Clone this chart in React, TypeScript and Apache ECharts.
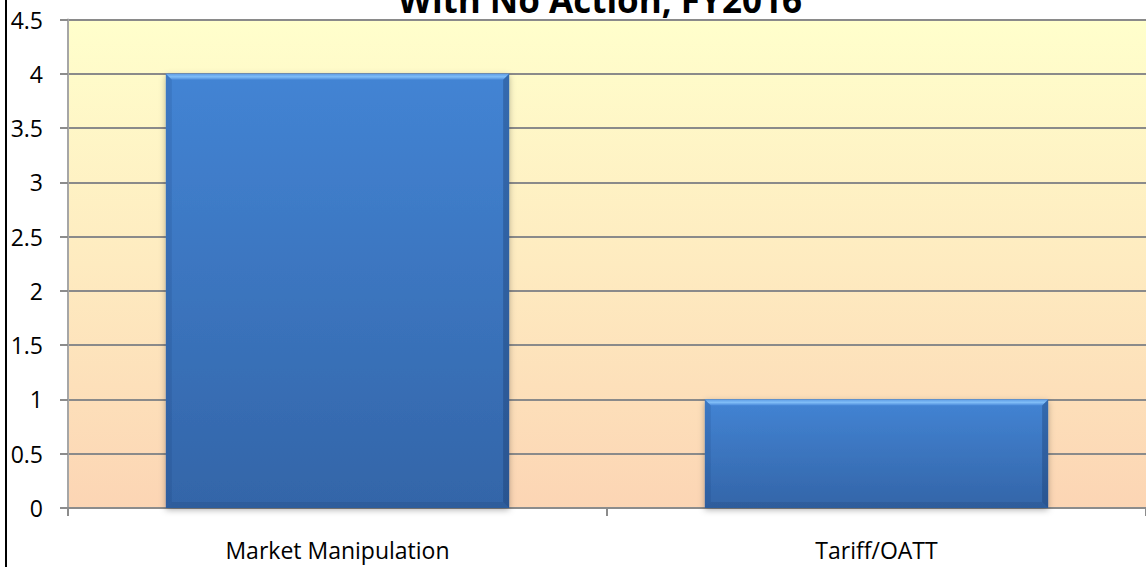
import React, { useEffect, useRef } from "react";
import * as echarts from "echarts";

const categories: string[] = ["Market Manipulation", "Tariff/OATT"];
const values: number[] = [4, 1];
const titleText = "With No Action, FY2016";

export default function App() {
  const ref = useRef<HTMLDivElement>(null);
  useEffect(() => {
    document.body.style.margin = "0";
    const chart = echarts.init(ref.current!, null, { renderer: "svg" });
    const font = "Open Sans";
    chart.setOption({
      animation: false,
      backgroundColor: "#ffffff",
      grid: {
        show: true,
        left: 68,
        top: 19.5,
        width: 1084,
        height: 488.5,
        borderWidth: 0,
        backgroundColor: new echarts.graphic.LinearGradient(0, 0, 0, 1, [
          { offset: 0, color: "#FFFFCC" },
          { offset: 0.5, color: "#FEEBC0" },
          { offset: 1, color: "#FCD5B4" },
        ]),
      },
      xAxis: {
        type: "category",
        data: categories,
        axisLine: { show: true, lineStyle: { color: "#8c8c8c", width: 2 } },
        axisTick: { show: true, length: 8, lineStyle: { color: "#8c8c8c", width: 2 } },
        axisLabel: { fontFamily: font, fontSize: 23, color: "#000", margin: 30 },
      },
      yAxis: {
        type: "value",
        min: 0,
        max: 4.5,
        interval: 0.5,
        axisLine: { show: true, lineStyle: { color: "#a6a6a6", width: 2 } },
        axisTick: { show: true, length: 8, lineStyle: { color: "#8c8c8c", width: 2 } },
        axisLabel: { fontFamily: font, fontSize: 23, color: "#000", margin: 25 },
        splitLine: { show: true, lineStyle: { color: "#8a8a8a", width: 2 } },
      },
      graphic: [
        {
          type: "text",
          x: 600,
          y: 17,
          z: 100,
          style: {
            text: titleText,
            fontFamily: font,
            fontWeight: "bold",
            fontSize: 35,
            fill: "#000",
            textAlign: "center",
            textVerticalAlign: "bottom",
          },
        },
        { type: "line", shape: { x1: 6, y1: 0, x2: 6, y2: 567 }, style: { stroke: "#000", lineWidth: 2 }, z: 100 },
      ],
      series: [
        {
          type: "custom",
          data: values.map((v, i) => [i, v]),
          encode: { x: 0, y: 1 },
          renderItem: (params: any, api: any) => {
            const idx = api.value(0);
            const val = api.value(1);
            const top = api.coord([idx, val]);
            const base = api.coord([idx, 0]);
            const bw = api.size([1, 0])[0] * 0.637;
            const x = top[0] - bw / 2;
            const y = top[1];
            const h = base[1] - top[1];
            const b = 6;
            return {
              type: "group",
              children: [
                {
                  type: "rect",
                  shape: { x, y, width: bw, height: h },
                  style: {
                    fill: new echarts.graphic.LinearGradient(0, 0, 0, 1, [
                      { offset: 0, color: "#4384D4" },
                      { offset: 1, color: "#3365A8" },
                    ]),
                    shadowBlur: 6,
                    shadowColor: "rgba(0,0,0,0.3)",
                    shadowOffsetX: 0,
                    shadowOffsetY: 2,
                  },
                },
                {
                  type: "polygon",
                  shape: { points: [[x, y], [x + bw, y], [x + bw - b, y + b], [x + b, y + b]] },
                  style: {
                    fill: new echarts.graphic.LinearGradient(0, 0, 0, 1, [
                      { offset: 0, color: "#5E9DE6" },
                      { offset: 0.5, color: "#80BDF7" },
                      { offset: 1, color: "#4A8ADA" },
                    ]),
                  },
                },
                {
                  type: "polygon",
                  shape: { points: [[x + bw, y], [x + bw, y + h], [x + bw - b, y + h - b], [x + bw - b, y + b]] },
                  style: { fill: "rgba(20,45,90,0.3)" },
                },
                {
                  type: "polygon",
                  shape: { points: [[x, y], [x, y + h], [x + b, y + h - b], [x + b, y + b]] },
                  style: { fill: "rgba(20,45,90,0.12)" },
                },
                {
                  type: "polygon",
                  shape: { points: [[x, y + h], [x + bw, y + h], [x + bw - b, y + h - b], [x + b, y + h - b]] },
                  style: { fill: "rgba(20,45,90,0.15)" },
                },
              ],
            };
          },
        },
      ],
    });
    return () => chart.dispose();
  }, []);
  return <div ref={ref} style={{ width: 1146, height: 567 }} />;
}
